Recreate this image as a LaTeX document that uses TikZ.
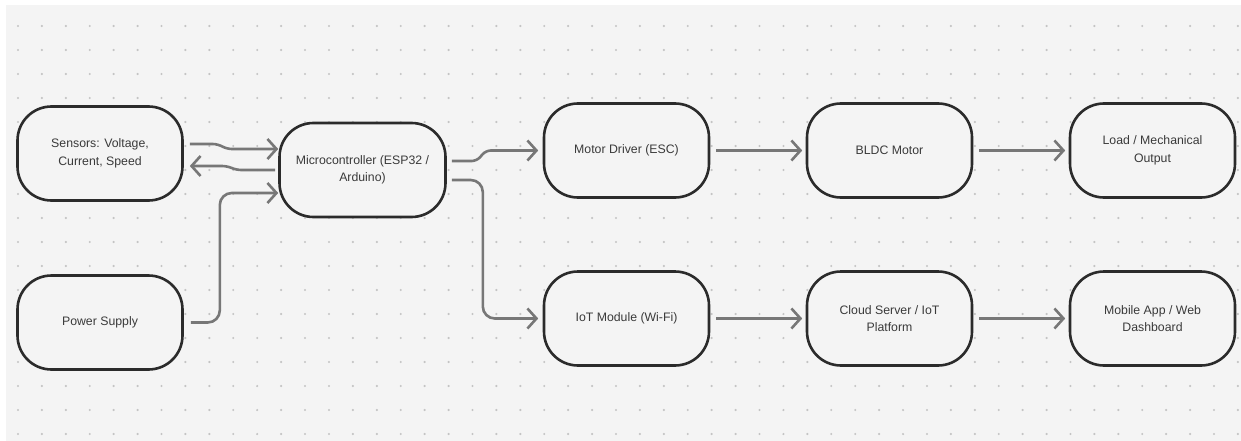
\documentclass[tikz,border=0pt]{standalone}
\usepackage{fontspec}
\setmainfont{Liberation Sans}
\usetikzlibrary{arrows.meta,calc}
\definecolor{bgc}{HTML}{F4F4F4}
\definecolor{dotc}{HTML}{C4C4C4}
\definecolor{boxc}{HTML}{2B2B2B}
\definecolor{arrc}{HTML}{777777}
\definecolor{txtc}{HTML}{3A3A3A}
\begin{document}
\begin{tikzpicture}[x=1pt,y=-1pt,
  box/.style={draw=boxc, line width=2.6pt, fill=bgc, rounded corners=34pt,
    minimum width=165pt, minimum height=94pt, inner sep=0pt, align=center,
    text=txtc, font=\fontsize{12.3}{17.5}\selectfont},
  arr/.style={draw=arrc, line width=2.6pt, rounded corners=5pt,
    -{Straight Barb[length=9pt,width=20pt]}}]
\useasboundingbox (0,0) rectangle (1241,441);
\fill[white] (0,0) rectangle (1241,441);
\fill[bgc] (6,5) rectangle (1241,441);
\foreach \i in {0,...,51}{
  \foreach \j in {0,...,17}{
    \fill[dotc] (18+23.92*\i, 26+24*\j) circle (1.2pt);
  }
}
% nodes
\node[box] (sen) at (100,153.5) {Sensors: Voltage,\\Current, Speed};
\node[box] (pw)  at (100,322.5) {Power Supply};
\node[box, minimum width=166pt] (mc) at (362.5,170) {Microcontroller (ESP32 /\\Arduino)};
\node[box] (md)  at (626.5,150.5) {Motor Driver (ESC)};
\node[box] (iot) at (626.5,318.5) {IoT Module (Wi-Fi)};
\node[box] (bl)  at (889.5,150.5) {BLDC Motor};
\node[box] (cl)  at (889.5,318.5) {Cloud Server / IoT\\Platform};
\node[box] (ld)  at (1152.5,150.5) {Load / Mechanical\\Output};
\node[box] (mob) at (1152.5,318.5) {Mobile App / Web\\Dashboard};
% connectors
\draw[arr] ($(sen.east)+(6,-9.5)$) -- ++(28,0) -- ++(9,5) -- ($(mc.west)+(0,-21)$);
\draw[arr] ($(mc.west)+(-3,0)$) -- ++(-39,0) -- ++(-9,-4) -- ($(sen.east)+(6,12.5)$);
\draw[arr, rounded corners=12pt] ($(pw.east)+(7,0)$) -- ++(29,0) |- ($(mc.west)+(0,23)$);
\draw[arr] ($(mc.east)+(5,-9)$) -- ++(25,0) -- ++(9,-10.5) -- ($(md.west)+(-4.5,0)$);
\draw[arr, rounded corners=12pt] ($(mc.east)+(5,10)$) -- ++(31,0) |- ($(iot.west)+(-4.5,0)$);
\draw[arr] ($(md.east)+(6,0)$) -- ($(bl.west)+(-3.5,0)$);
\draw[arr] ($(iot.east)+(6,0)$) -- ($(cl.west)+(-3.5,0)$);
\draw[arr] ($(bl.east)+(6,0)$) -- ($(ld.west)+(-3.5,0)$);
\draw[arr] ($(cl.east)+(6,0)$) -- ($(mob.west)+(-3.5,0)$);
\end{tikzpicture}
\end{document}
